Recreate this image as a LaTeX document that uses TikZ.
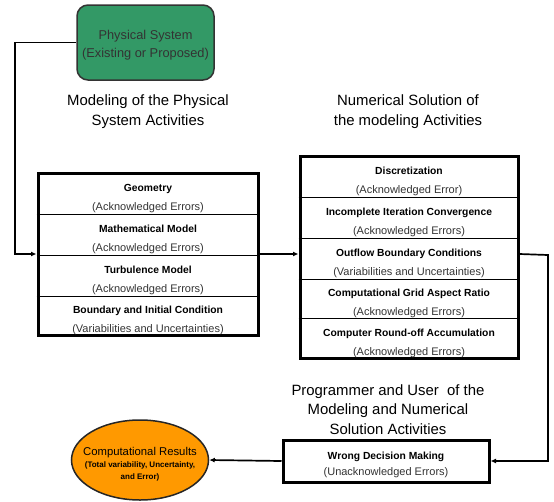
\documentclass[tikz,border=0pt]{standalone}
\usepackage{fontspec}
\setmainfont{Liberation Sans}
\usetikzlibrary{shapes.geometric,arrows.meta}
\definecolor{boxgreen}{HTML}{339966}
\definecolor{resorange}{HTML}{FF9900}
\definecolor{subgray}{HTML}{333333}
\newcommand{\rowtxt}[2]{{\fontsize{10.3}{12}\selectfont\bfseries #1}\\{\fontsize{11}{12}\selectfont\color{subgray}#2}}
\begin{document}
\begin{tikzpicture}[x=1pt,y=-1pt,
  conn/.style={line width=1.7pt},
  arr/.style={conn,-{Latex[length=5.5pt,width=5pt]}},
  frame/.style={draw,line width=3pt,inner sep=0pt},
  rowbox/.style={inner sep=0pt,align=center,yshift=-5pt,font=\fontsize{10.3}{19}\selectfont},
  heading/.style={align=center,font=\fontsize{14.9}{19.5}\selectfont},
  divider/.style={line width=0.7pt}
]
\useasboundingbox (0,0) rectangle (554,501);

% green physical system box
\node[draw=black!80,line width=1.5pt,fill=boxgreen,rounded corners=11pt,
      minimum width=137pt,minimum height=75pt] (G) at (145.5,42.5) {};
\node[align=center,text=subgray,inner sep=0pt,
      font=\fontsize{12.8}{18}\selectfont] (GT) at (145.5,45)
      {Physical System\\(Existing or Proposed)};

% headings
\node[heading] (H1) at (148,111.5) {Modeling of the Physical\\System Activities};
\node[heading] (H2) at (408,111.5) {Numerical Solution of\\the modeling Activities};
\node[heading] (H3) at (388,409.5) {Programmer and User\ \ of the\\Modeling and Numerical\\Solution Activities};

% left frame
\node[frame,minimum width=220pt,minimum height=162pt] (L) at (148,254) {};
\node[rowbox] (L1) at (148,193.5)
  {\rowtxt{Geometry}{(Acknowledged Errors)}};
\node[rowbox] (L2) at (148,234.5)
  {\rowtxt{Mathematical Model}{(Acknowledged Errors)}};
\node[rowbox] (L3) at (148,275.5)
  {\rowtxt{Turbulence Model}{(Acknowledged Errors)}};
\node[rowbox] (L4) at (148,315.5)
  {\rowtxt{Boundary and Initial Condition}{(Variabilities and Uncertainties)}};
\draw[divider] (L.west |- 0,214) -- (L.east |- 0,214);
\draw[divider] (L.west |- 0,255) -- (L.east |- 0,255);
\draw[divider] (L.west |- 0,296) -- (L.east |- 0,296);

% right frame
\node[frame,minimum width=218pt,minimum height=202pt] (R) at (409,257) {};
\node[rowbox] (R1) at (409,176.5)
  {\rowtxt{Discretization}{(Acknowledged Error)}};
\node[rowbox] (R2) at (409,217.5)
  {\rowtxt{Incomplete Iteration Convergence}{(Acknowledged Errors)}};
\node[rowbox] (R3) at (409,258.5)
  {\rowtxt{Outflow Boundary Conditions}{(Variabilities and Uncertainties)}};
\node[rowbox] (R4) at (409,298.5)
  {\rowtxt{Computational Grid Aspect Ratio}{(Acknowledged Errors)}};
\node[rowbox] (R5) at (409,338)
  {\rowtxt{Computer Round-off Accumulation}{(Acknowledged Errors)}};
\draw[divider] (R.west |- 0,197) -- (R.east |- 0,197);
\draw[divider] (R.west |- 0,238) -- (R.east |- 0,238);
\draw[divider] (R.west |- 0,279) -- (R.east |- 0,279);
\draw[divider] (R.west |- 0,318) -- (R.east |- 0,318);

% wrong decision box
\node[frame,minimum width=206pt,minimum height=42pt] (W) at (386,461) {};
\node[rowbox,font=\fontsize{10.3}{16.5}\selectfont,yshift=1pt] (WT) at (386,461)
  {\rowtxt{Wrong Decision Making}{(Unacknowledged Errors)}};

% results ellipse
\node[ellipse,draw=black!85,line width=1.5pt,fill=resorange,minimum width=137pt,
      minimum height=80pt,inner sep=0pt] (E) at (140,460) {};
\node[align=center,inner sep=0pt,font=\fontsize{8}{12}\selectfont\bfseries] (ET) at (140,464)
  {\fontsize{11.3}{13}\selectfont\mdseries Computational Results\\[0.5pt]
   (Total variability, Uncertainty,\\and Error)};

% connectors
\coordinate (lc) at (15,42.5);
\coordinate (rc) at (548,255);
\draw[arr] (G.west) -- (lc) |- (L.west);
\draw[arr] (L.east) -- (L.east -| R.west);
\draw[arr] (L.east -| R.east) -- (rc) |- (W.east);
\draw[arr] (W.west) -- (E.east);
\end{tikzpicture}
\end{document}
